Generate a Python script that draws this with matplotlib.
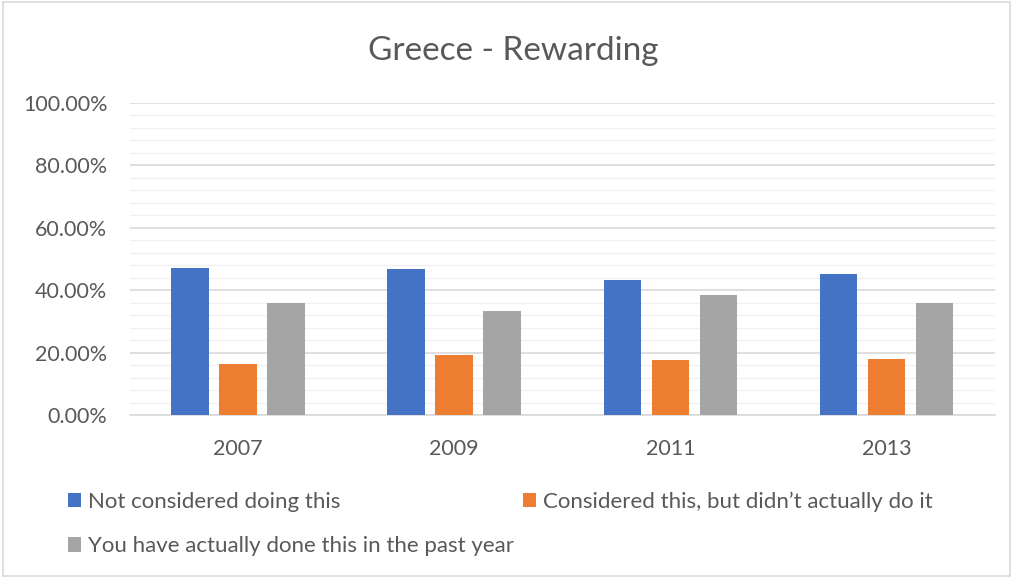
import numpy as np
import matplotlib
matplotlib.use("Agg")
import matplotlib.pyplot as plt
from matplotlib.patches import Rectangle
from matplotlib.ticker import MultipleLocator, FuncFormatter

# Survey shares per year
years = ["2007", "2009", "2011", "2013"]
not_considered = [47.0, 46.7, 43.4, 45.2]
considered_not_done = [16.5, 19.3, 17.6, 18.0]
done_past_year = [35.8, 33.2, 38.3, 36.0]

labels = [
    "Not considered doing this",
    "Considered this, but didn\u2019t actually do it",
    "You have actually done this in the past year",
]
colors = ["#4472C4", "#ED7D31", "#A5A5A5"]
text_color = "#595959"

plt.rcParams["font.family"] = ["Lato", "DejaVu Sans"]

fig = plt.figure(figsize=(10.13, 5.78), dpi=100)
ax = fig.add_axes([0.128, 0.282, 0.854, 0.540])

x = np.arange(len(years))
width = 0.174
step = 0.222
series = [not_considered, considered_not_done, done_past_year]
bars = []
for i, (vals, col) in enumerate(zip(series, colors)):
    b = ax.bar(x + (i - 1) * step, vals, width, color=col, zorder=3)
    bars.append(b)

ax.set_xlim(-0.5, len(years) - 0.5)
ax.set_ylim(0, 100)
ax.yaxis.set_major_locator(MultipleLocator(20))
ax.yaxis.set_minor_locator(MultipleLocator(4))
ax.yaxis.set_major_formatter(FuncFormatter(lambda v, _: f"{v:.2f}%"))
ax.grid(axis="y", which="major", color="#D9D9D9", linewidth=1.2, zorder=0)
ax.grid(axis="y", which="minor", color="#F0F0F0", linewidth=1.0, zorder=0)
ax.set_xticks(x)
ax.set_xticklabels(years)
ax.tick_params(axis="both", which="both", length=0, colors=text_color, labelsize=15.5)
ax.tick_params(axis="x", pad=17)
ax.tick_params(axis="y", pad=16)
for side in ["top", "right", "left"]:
    ax.spines[side].set_visible(False)
ax.spines["bottom"].set_color("#D9D9D9")
ax.spines["bottom"].set_linewidth(1.2)

fig.suptitle("Greece - Rewarding", x=0.507, y=0.938, fontsize=24, color=text_color)

leg = fig.legend(
    [bars[0], bars[2], bars[1]],
    [labels[0], labels[2], labels[1]],
    ncol=2, loc="upper left", bbox_to_anchor=(0.058, 0.165),
    frameon=False, fontsize=16, labelcolor=text_color,
    handlelength=0.6, handleheight=0.6, handletextpad=0.3,
    columnspacing=0.4, labelspacing=1.1, borderaxespad=0,
)

# light frame around the whole chart
fig.patches.append(Rectangle((0.003, 0.003), 0.994, 0.994, transform=fig.transFigure,
                             fill=False, edgecolor="#D9D9D9", linewidth=1.2))

fig.savefig("out.png", dpi=100)
